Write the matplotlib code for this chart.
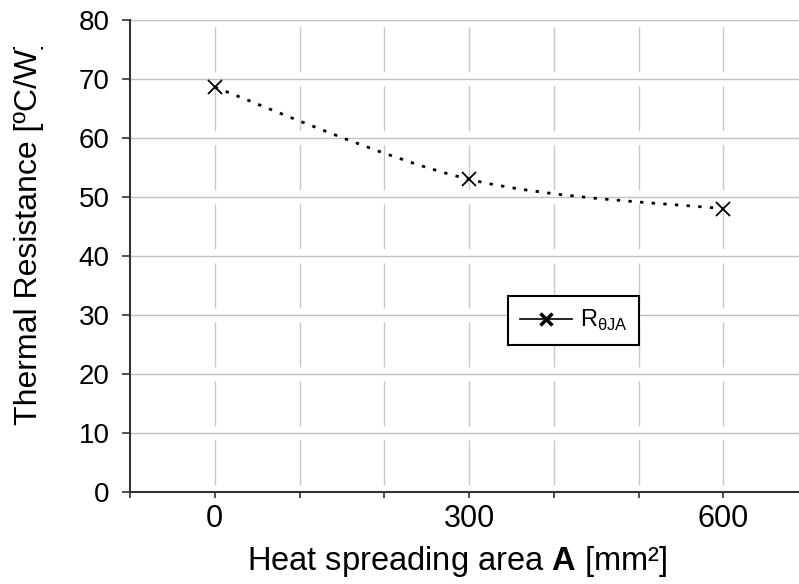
import matplotlib
matplotlib.use('Agg')
import matplotlib.pyplot as plt
from matplotlib.path import Path
from matplotlib.patches import PathPatch
from matplotlib.lines import Line2D
from matplotlib.transforms import Bbox, TransformedBbox

# données
area = [0, 300, 600]            # mm²
r_theta_ja = [68.6, 53.0, 48.0]  # ºC/W
x_ticks = [-100, 0, 100, 200, 300, 400, 500, 600, 700]
x_tick_labels = ['', '0', '', '', '300', '', '', '600', '']
y_ticks = [0, 10, 20, 30, 40, 50, 60, 70, 80]

plt.rcParams['font.family'] = ['Liberation Sans', 'DejaVu Sans']
plt.rcParams['mathtext.fontset'] = 'custom'
plt.rcParams['mathtext.rm'] = 'Liberation Sans'
plt.rcParams['mathtext.bf'] = 'Liberation Sans:bold'


# Courbe lissée style Excel (Bezier, Catmull-Rom)
def smooth_path(xs, ys):
    pts = list(zip(xs, ys))
    verts = [pts[0]]
    codes = [Path.MOVETO]
    n = len(pts)
    for i in range(n - 1):
        p0 = pts[i - 1] if i > 0 else pts[i]
        p1 = pts[i]
        p2 = pts[i + 1]
        p3 = pts[i + 2] if i + 2 < n else pts[i + 1]
        c1 = (p1[0] + (p2[0] - p0[0]) / 6, p1[1] + (p2[1] - p0[1]) / 6)
        c2 = (p2[0] - (p3[0] - p1[0]) / 6, p2[1] - (p3[1] - p1[1]) / 6)
        verts += [c1, c2, p2]
        codes += [Path.CURVE4] * 3
    return Path(verts, codes)


fig = plt.figure(figsize=(7.99, 5.84), dpi=100)
ax = fig.add_axes([130 / 799, 92 / 584, 678 / 799, 472 / 584])

ax.set_xlim(-100, 700)
ax.set_ylim(0, 80)

# grille
for y in y_ticks[1:]:
    ax.axhline(y, color='#c0c0c0', lw=1.0, zorder=0)
for x in x_ticks[1:]:
    ax.axvline(x, color='#c8c8c8', lw=1.0, zorder=0,
               linestyle=(32.4 + 5.0, (32.4, 10.1)))

patch = PathPatch(smooth_path(area, r_theta_ja), facecolor='none', edgecolor='black',
                  lw=2.0, linestyle=(0, (1.2, 3.0)), zorder=2)
ax.add_patch(patch)
ax.plot(area, r_theta_ja, linestyle='none', marker='x', color='black',
        markersize=10, markeredgewidth=1.3, zorder=3)

for side in ['top', 'right']:
    ax.spines[side].set_visible(False)
for side in ['left', 'bottom']:
    ax.spines[side].set_color('#333333')
    ax.spines[side].set_linewidth(1.5)

ax.set_xticks(x_ticks)
ax.set_xticklabels(x_tick_labels)
ax.set_yticks(y_ticks)
ax.tick_params(axis='x', direction='out', length=4.5, width=1.2, color='#333333',
               labelsize=22, pad=4)
ax.tick_params(axis='y', direction='out', length=5.5, width=1.2, color='#333333',
               labelsize=20, pad=9)

ax.set_xlabel('Heat spreading area $\\mathbf{A}$ [mm²]', fontsize=23.5)
ax.xaxis.set_label_coords((457 - 130) / 678, (492 - 570) / 472)
ax.xaxis.label.set_va('baseline')

ax.set_ylabel('Thermal Resistance [ºC/W]', fontsize=23)
ax.yaxis.set_label_coords((37 - 130) / 678, (492 - 232) / 472)
ax.yaxis.label.set_va('baseline')
# le haut du titre est coupé dans l'original
ax.yaxis.label.set_clip_box(TransformedBbox(Bbox([[0, 0], [1, 1 - 47 / 584]]), fig.transFigure))
ax.yaxis.label.set_clip_on(True)

proxy = Line2D([], [], color='black', lw=1.2, marker='x', markersize=8, markeredgewidth=2.5)
leg = ax.legend([proxy], [r'R$_\mathrm{θJA}$'], loc='upper left',
                bbox_to_anchor=(378 / 678, 196 / 472), borderaxespad=0,
                fancybox=False, framealpha=1, edgecolor='black', fontsize=17,
                handlelength=2.2, borderpad=0.5, handletextpad=0.34)
leg.get_frame().set_linewidth(1.5)

plt.savefig('out.png', dpi=100)
